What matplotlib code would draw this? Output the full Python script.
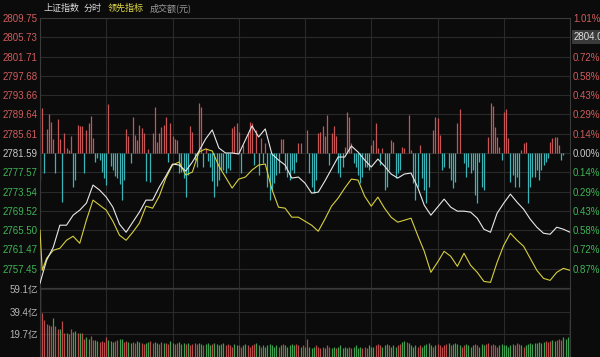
import numpy as np
import matplotlib.pyplot as plt

plt.rcParams['font.family'] = ['Liberation Sans', 'Noto Sans CJK SC', 'DejaVu Sans']

# ---- 数据 ----
# 分时价格：9:30、9:31，之后每3分钟一个点（0~240分钟）
minutes = [0, 1] + list(range(3, 241, 3))

index_price = [
    2754.39, 2756.07,
    2759.21, 2761.93, 2766.53, 2766.53, 2768.62, 2769.67, 2771.13, 2774.90, 2773.85, 2772.39,
    2770.29, 2766.74, 2765.06, 2767.16, 2769.25, 2771.76, 2771.76, 2774.48, 2776.78, 2779.29,
    2779.08, 2777.82, 2779.71, 2782.01, 2784.52, 2786.40, 2782.64, 2781.59, 2781.59, 2781.38,
    2784.31, 2787.24, 2784.94, 2786.61, 2781.38, 2780.13, 2779.08, 2776.36, 2776.57, 2775.31,
    2773.22, 2773.43, 2775.73, 2778.24, 2780.75, 2780.75, 2783.05, 2781.80, 2780.13, 2778.66,
    2780.33, 2778.87, 2777.20, 2776.36, 2777.20, 2777.41, 2774.48, 2770.71, 2768.62, 2770.29,
    2771.97, 2770.29, 2769.46, 2769.46, 2769.25, 2767.99, 2765.69, 2765.06, 2769.04, 2771.13,
    2773.01, 2771.34, 2769.87, 2767.78, 2766.11, 2764.85, 2764.64, 2766.11, 2765.69, 2765.06,
]

lead_index = [
    2765.48, 2757.11,
    2759.62, 2761.30, 2761.72, 2763.39, 2764.23, 2762.76, 2767.57, 2771.76, 2770.71, 2769.67,
    2767.36, 2764.44, 2763.39, 2765.06, 2766.95, 2770.50, 2770.08, 2772.59, 2776.36, 2779.08,
    2779.71, 2776.99, 2777.62, 2781.80, 2782.43, 2782.01, 2778.87, 2776.57, 2774.27, 2776.15,
    2776.57, 2778.03, 2779.08, 2779.29, 2774.06, 2770.29, 2770.08, 2768.20, 2768.20, 2767.36,
    2766.53, 2765.27, 2767.78, 2770.50, 2772.18, 2774.27, 2776.15, 2775.94, 2772.59, 2770.50,
    2772.39, 2770.08, 2768.20, 2767.16, 2767.57, 2767.99, 2764.44, 2761.09, 2756.70, 2758.79,
    2761.09, 2760.04, 2757.95, 2760.67, 2758.16, 2756.70, 2754.81, 2754.60, 2758.79, 2762.34,
    2764.85, 2763.39, 2762.13, 2759.62, 2757.11, 2755.44, 2755.02, 2756.70, 2757.53, 2757.11,
]

# 领先指标红绿柱（每分钟一根）
lead_bars = [
    -27, 45, -20, 24, 39, 31, 14, -20, 34, 14,
    -49, 20, 5, 3, 17, -34, -27, 28, 27, 27,
    -20, 23, 30, 37, 15, -9, -5, -7, -19, -25,
    -32, 49, -13, -17, -23, -25, -31, -47, -27, 24,
    17, -10, 36, 18, 13, 28, 25, 20, -28, 4,
    -29, 20, 46, 11, 20, 26, 28, 36, -9, 30,
    17, 14, 13, -20, -19, -25, -44, -22, 27, 21,
    -7, -14, 50, 46, -14, 5, -8, -14, -28, -44,
    -33, -27, -17, -17, -20, -15, -17, 25, 27, 30,
    21, -20, 8, 0, 20, 31, 30, -12, 23, -22,
    15, -10, 10, -34, -47, -37, -30, -22, -20, 14,
    14, -17, -24, -27, -17, -20, -9, 10, 10, 0,
    0, 23, -20, -34, -40, -27, 20, 21, 27, 17,
    38, -12, 20, 27, 17, -20, -24, -14, 6, 41,
    36, 10, -10, -14, -22, -30, -24, -14, -14, -17,
    8, 13, 30, 5, -12, 5, -37, -34, -17, 13,
    11, -25, -20, -17, 6, 5, 0, 38, 3, -30,
    -47, -34, 8, -25, -37, -50, -34, 0, 23, 36,
    35, 18, -17, -14, 0, -15, -27, -35, -29, 30,
    44, 0, -10, -24, -14, -20, -17, -42, -50, -9,
    -34, -37, 0, 16, 50, 47, 26, 16, 6, -7,
    41, 44, 15, -29, -22, -34, -24, -34, 3, 10,
    11, -50, -34, -24, -24, -17, -27, -17, -12, -9,
    -5, 11, 15, 16, 16, 8, -7, -2, 0, 0,
    0,
]

# 成交额（亿元），每分钟
turnover = [
    61, 38, 32, 29, 28, 27, 34, 27, 24, 24,
    31, 21, 21, 20, 24, 22, 23, 21, 21, 21,
    16, 17, 16, 18, 15, 15, 14, 13, 14, 13,
    17, 15, 14, 13, 14, 15, 16, 16, 13, 14,
    13, 12, 13, 12, 14, 13, 12, 11, 12, 13,
    14, 12, 13, 12, 11, 13, 12, 12, 11, 14,
    12, 11, 12, 13, 11, 12, 11, 12, 10, 11,
    12, 11, 12, 11, 10, 11, 12, 10, 11, 12,
    11, 10, 11, 12, 10, 11, 10, 9, 11, 10,
    10, 9, 10, 11, 10, 9, 10, 11, 12, 10,
    9, 10, 9, 10, 11, 10, 9, 10, 9, 10,
    11, 10, 9, 10, 11, 10, 11, 10, 9, 10,
    9, 16, 9, 8, 9, 10, 9, 8, 9, 8,
    10, 9, 8, 9, 8, 9, 10, 8, 9, 8,
    9, 8, 9, 10, 8, 9, 8, 9, 8, 10,
    9, 9, 10, 11, 10, 9, 10, 11, 10, 9,
    10, 9, 10, 11, 13, 14, 13, 12, 10, 9,
    10, 9, 10, 9, 10, 11, 12, 10, 9, 10,
    11, 10, 9, 10, 11, 12, 10, 11, 12, 11,
    10, 9, 10, 11, 10, 9, 10, 11, 10, 9,
    11, 10, 11, 12, 10, 11, 10, 9, 10, 11,
    10, 10, 9, 10, 11, 10, 12, 11, 10, 9,
    10, 11, 12, 11, 12, 12, 13, 12, 13, 14,
    13, 14, 15, 14, 15, 16, 15, 17, 16, 17,
    32,
]
# 每分钟涨跌：u=红 d=绿
turnover_dir = (
    "duuuuuduud" "uuduuddudu" "udduudduuu" "uddduudduu"
    "dduudduudd" "uudduuduud" "duuddduduu" "uuddudddud"
    "dddduuuudd" "uudduuuudd" "udddddddud" "uddddduudu"
    "duddduuuud" "uudduddddd" "uudddduuud" "dduuudddud"
    "dduudduddd" "duudddddud" "uuuuududdd" "duudddduud"
    "dduuuuuudd" "ddddduuudu" "dddddddddu" "uudduuuddd"
    "d"
)

price_ticks = [2809.75, 2805.73, 2801.71, 2797.68, 2793.66, 2789.64, 2785.61, 2781.59,
               2777.57, 2773.54, 2769.52, 2765.50, 2761.47, 2757.45]
# 第二行被右侧价格标签遮住
pct_labels = ["1.01%", "", "0.72%", "0.58%", "0.43%", "0.29%", "0.14%", "0.00%",
              "0.14%", "0.29%", "0.43%", "0.58%", "0.72%", "0.87%"]
prev_close = 2781.59
turnover_ticks = [19.7, 39.4, 59.1]
cursor_price = "2804.06"

# ---- 颜色 ----
BG = '#0b0b0b'
GRID = '#2a2a2a'
RED = '#d05c5c'
GREEN = '#3fb457'
GRAY = '#c8c8c8'

fig = plt.figure(figsize=(6, 3.57), dpi=100, facecolor=BG)
rect_p = [40/600, 1-288/357, 530/600, 270/357]
rect_v = [40/600, 0, 530/600, 69/357]

all_min = np.arange(len(lead_bars))

# 红绿柱 + 网格（最底层）
ax_bar = fig.add_axes(rect_p, zorder=1)
ax_bar.set_facecolor(BG)
ax_bar.set_xlim(0, 240)
ax_bar.set_ylim(-135, 135)
bar_cols = ['#c65656' if v > 0 else '#3ab4b6' for v in lead_bars]
ax_bar.vlines(all_min, 0, lead_bars, colors=bar_cols, lw=0.9)
ax_bar.set_yticks(np.arange(-7, 8) * 135 / 7)
ax_bar.set_xticks(range(0, 241, 30))
ax_bar.grid(True, color=GRID, lw=0.8)
ax_bar.tick_params(length=0, labelleft=False, labelbottom=False)
for s in ax_bar.spines.values():
    s.set_color('#3a3a3a')

# 分时线
ax = fig.add_axes(rect_p, zorder=2)
ax.set_facecolor('none')
ax.plot(minutes, lead_index, color='#d6cf3e', lw=0.8)
ax.plot(minutes, index_price, color='#e8e8e8', lw=0.8)
ax.set_xlim(0, 240)
ax.set_ylim(2753.43, 2809.75)
ax.set_xticks([])
ax.set_yticks(price_ticks)
ax.set_yticklabels([f"{p:.2f}" for p in price_ticks], fontsize=7)
ax.tick_params(axis='y', length=0, pad=1.5)
for lbl, p in zip(ax.get_yticklabels(), price_ticks):
    lbl.set_color(RED if p > prev_close + 0.01 else (GREEN if p < prev_close - 0.01 else GRAY))
for s in ax.spines.values():
    s.set_visible(False)

ax_r = ax.twinx()
ax_r.set_ylim(ax.get_ylim())
ax_r.set_yticks(price_ticks)
ax_r.set_yticklabels(pct_labels, fontsize=7)
ax_r.tick_params(axis='y', length=0, pad=2.2)
for lbl, p in zip(ax_r.get_yticklabels(), price_ticks):
    lbl.set_color(RED if p > prev_close + 0.01 else (GREEN if p < prev_close - 0.01 else GRAY))
for s in ax_r.spines.values():
    s.set_visible(False)

# 成交额
axv = fig.add_axes(rect_v, zorder=1)
axv.set_facecolor(BG)
vol_cols = ['#b84c4c' if c == 'u' else '#3f9f52' for c in turnover_dir]
axv.vlines(all_min, 0, turnover, colors=vol_cols, lw=0.9)
axv.set_xlim(0, 240)
axv.set_ylim(0, 59.1 * 69 / 68)
axv.set_yticks(turnover_ticks)
axv.set_yticklabels([f"{v}亿" for v in turnover_ticks], fontsize=7, color='#b4b4b4')
axv.set_xticks(range(0, 241, 30))
axv.grid(True, color=GRID, lw=0.8)
axv.tick_params(length=0, labelbottom=False, pad=1.5)
for s in axv.spines.values():
    s.set_color('#3a3a3a')

# 顶部标题
ty = 1 - 8/357
fig.text(43/600, ty, "上证指数", color='#d8d8d8', fontsize=6.5, va='center',
         family=['Noto Sans CJK SC'])
fig.text(84/600, ty, "分时", color='#d8d8d8', fontsize=6.5, va='center',
         family=['Noto Sans CJK SC'])
fig.text(108/600, ty, "领先指标", color='#e4dc4a', fontsize=6.5, va='center',
         family=['Noto Sans CJK SC'])
fig.text(150/600, ty, "成交额(元)", color='#9a9a9a', fontsize=6.5, va='center',
         family=['Noto Sans CJK SC'])

# 右侧价格标签（右边被截断，与原图一致）
fig.text(574/600, 1-37/357, cursor_price, color='#e0e0e0', fontsize=7, va='center',
         bbox=dict(boxstyle='square,pad=0.25', facecolor='#3a3a3a', edgecolor='none'))

fig.savefig("out.png", dpi=100, facecolor=BG)
